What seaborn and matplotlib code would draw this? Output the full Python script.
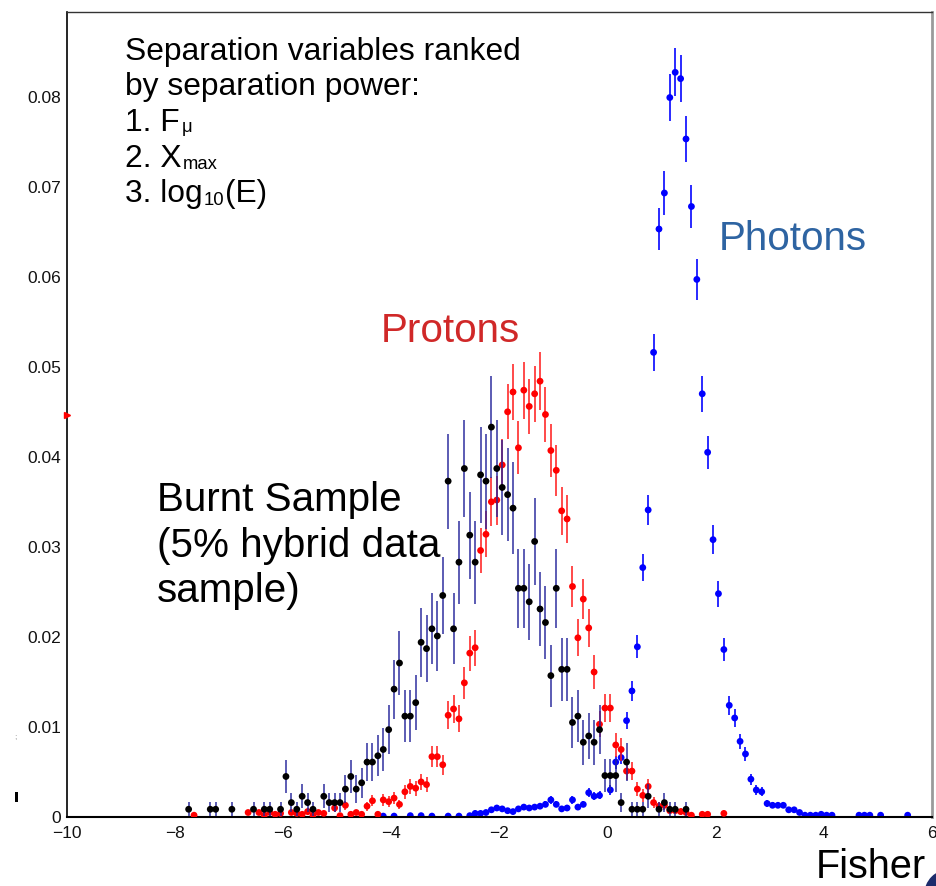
import numpy as np
import pandas as pd
import matplotlib
matplotlib.use("Agg")
import matplotlib.pyplot as plt
import seaborn as sns
from matplotlib.patches import Ellipse, Rectangle
from matplotlib.ticker import MultipleLocator, FuncFormatter

# ---------------- data (bin centres of the Fisher variable, normalised entries) ----------------
burnt_x = [-7.75, -7.35, -7.25, -6.95, -6.55, -6.35, -6.25, -6.05, -5.95, -5.85,
           -5.75, -5.65, -5.55, -5.45, -5.25, -5.15, -5.05, -4.95, -4.85, -4.75,
           -4.65, -4.55, -4.45, -4.35, -4.25, -4.15, -4.05, -3.95, -3.85, -3.75,
           -3.65, -3.55, -3.45, -3.35, -3.25, -3.15, -3.05, -2.95, -2.85, -2.75,
           -2.65, -2.55, -2.45, -2.35, -2.25, -2.15, -2.05, -1.95, -1.85, -1.75,
           -1.65, -1.55, -1.45, -1.35, -1.25, -1.15, -1.05, -0.95, -0.85, -0.75,
           -0.65, -0.55, -0.45, -0.35, -0.25, -0.15, -0.05, 0.05, 0.15, 0.25,
           0.35, 0.45, 0.55, 0.65, 0.75, 0.95, 1.05, 1.15, 1.25, 1.45]
burnt_y = [0.00086, 0.00086, 0.00086, 0.00086, 0.00086, 0.00086, 0.00086, 0.00086, 0.0045, 0.0016,
           0.00086, 0.0023, 0.0016, 0.00086, 0.0023, 0.0016, 0.0016, 0.0016, 0.0031, 0.0045,
           0.0031, 0.0038, 0.0061, 0.0061, 0.0068, 0.0075, 0.0097, 0.0142, 0.0171, 0.0112,
           0.0112, 0.0127, 0.0194, 0.0187, 0.0209, 0.0201, 0.0246, 0.0373, 0.0209, 0.0283,
           0.0387, 0.0313, 0.0283, 0.0380, 0.0373, 0.0433, 0.0387, 0.0366, 0.0358, 0.0343,
           0.0254, 0.0254, 0.0239, 0.0306, 0.0231, 0.0216, 0.0157, 0.0254, 0.0164, 0.0164,
           0.0105, 0.0112, 0.0083, 0.0090, 0.0083, 0.0097, 0.0046, 0.0046, 0.0046, 0.0016,
           0.0061, 0.00086, 0.00086, 0.00086, 0.0023, 0.00086, 0.0016, 0.00086, 0.00086, 0.00086]

proton_x = [-7.65, -6.65, -6.45, -6.35, -6.25, -6.15, -6.05, -5.85, -5.75, -5.65,
            -5.55, -5.45, -5.35, -5.25, -5.05, -4.95, -4.85, -4.75, -4.65, -4.55,
            -4.45, -4.35, -4.25, -4.15, -4.05, -3.95, -3.85, -3.75, -3.65, -3.55,
            -3.45, -3.35, -3.25, -3.15, -3.05, -2.95, -2.85, -2.75, -2.65, -2.55,
            -2.45, -2.35, -2.25, -2.15, -2.05, -1.95, -1.85, -1.75, -1.65, -1.55,
            -1.45, -1.35, -1.25, -1.15, -1.05, -0.95, -0.85, -0.75, -0.65, -0.55,
            -0.45, -0.35, -0.25, -0.15, -0.05, 0.05, 0.15, 0.25, 0.35, 0.45,
            0.55, 0.65, 0.75, 0.85, 0.95, 1.05, 1.15, 1.25, 1.35, 1.45,
            1.55, 1.75, 1.85, 2.15]
proton_y = [0.0002, 0.0005, 0.0005, 0.0002, 0.0005, 0.0003, 0.0004, 0.0005, 0.0004, 0.0003,
            0.0006, 0.0002, 0.0005, 0.0004, 0.0010, 0.00015, 0.0013, 0.0003, 0.0005, 0.0003,
            0.0012, 0.0018, 0.0003, 0.0019, 0.0017, 0.0021, 0.0014, 0.0028, 0.0034, 0.0032,
            0.0039, 0.0036, 0.0067, 0.0067, 0.0058, 0.0113, 0.0120, 0.0109, 0.0149, 0.0182,
            0.0188, 0.0296, 0.0314, 0.0350, 0.0352, 0.0391, 0.0450, 0.0472, 0.0410, 0.0474,
            0.0456, 0.0470, 0.0484, 0.0447, 0.0407, 0.0385, 0.0340, 0.0331, 0.0256, 0.0199,
            0.0242, 0.0210, 0.0161, 0.0103, 0.0121, 0.0121, 0.0080, 0.0075, 0.0051, 0.0051,
            0.0031, 0.0024, 0.0034, 0.0016, 0.0012, 0.0013, 0.0007, 0.0007, 0.0006, 0.0005,
            0.0002, 0.0003, 0.0003, 0.0004]

photon_x = [-4.15, -3.95, -3.65, -3.45, -3.25, -2.95, -2.75, -2.55, -2.45, -2.35,
            -2.25, -2.15, -2.05, -1.95, -1.85, -1.75, -1.65, -1.55, -1.45, -1.35,
            -1.25, -1.15, -1.05, -0.95, -0.85, -0.75, -0.65, -0.55, -0.45, -0.35,
            -0.25, -0.15, 0.05, 0.15, 0.25, 0.35, 0.45, 0.55, 0.65, 0.75,
            0.85, 0.95, 1.05, 1.15, 1.25, 1.35, 1.45, 1.55, 1.65, 1.75,
            1.85, 1.95, 2.05, 2.15, 2.25, 2.35, 2.45, 2.55, 2.65, 2.75,
            2.85, 2.95, 3.05, 3.15, 3.25, 3.35, 3.45, 3.55, 3.65, 3.75,
            3.85, 3.95, 4.05, 4.15, 4.65, 4.75, 4.85, 5.05, 5.55]
photon_y = [0.0001, 0.0001, 0.00015, 0.00015, 0.0001, 0.0001, 0.0001, 0.00015, 0.0004, 0.0004,
            0.0005, 0.0008, 0.0010, 0.0009, 0.0007, 0.0006, 0.0009, 0.0011, 0.0010, 0.0011,
            0.0012, 0.0014, 0.0019, 0.0014, 0.0009, 0.0010, 0.0019, 0.0011, 0.0014, 0.0027,
            0.0023, 0.0024, 0.0030, 0.0061, 0.0066, 0.0107, 0.0140, 0.0189, 0.0277, 0.0341,
            0.0516, 0.0653, 0.0693, 0.0799, 0.0827, 0.0820, 0.0753, 0.0678, 0.0597, 0.0470,
            0.0405, 0.0308, 0.0248, 0.0186, 0.0124, 0.0110, 0.0084, 0.0070, 0.0042, 0.0030,
            0.0028, 0.0015, 0.0013, 0.0013, 0.0013, 0.0008, 0.0008, 0.0005, 0.0002, 0.0002,
            0.0002, 0.0003, 0.0002, 0.0002, 0.0002, 0.0002, 0.0002, 0.0002, 0.0002]

# weight of one entry in each normalised histogram (sets the Poisson error bars)
unit_burnt = 0.00075
unit_proton = 0.00021
unit_photon = 0.000085

# a proton entry drawn on the left frame edge
proton_edge_y = [0.0447]

x_ticks_major = [-10, -8, -6, -4, -2, 0, 2, 4, 6]

assert len(burnt_x) == len(burnt_y)
assert len(proton_x) == len(proton_y)
assert len(photon_x) == len(photon_y)


def make_frame(xs, ys, unit, name):
    d = pd.DataFrame({"x": xs, "y": ys})
    d["err"] = np.sqrt(d["y"] * unit)
    d["series"] = name
    return d


df = pd.concat([
    make_frame(photon_x, photon_y, unit_photon, "Photons"),
    make_frame(proton_x, proton_y, unit_proton, "Protons"),
    make_frame(burnt_x, burnt_y, unit_burnt, "Burnt"),
], ignore_index=True)

# ---------------- style ----------------
sns.set_style("white")
plt.rcParams["font.family"] = ["Liberation Sans", "DejaVu Sans"]
plt.rcParams["axes.unicode_minus"] = True

W, H = 936, 886
fig = plt.figure(figsize=(W / 100, H / 100), dpi=100)
L, R, T, B = 67, 932, 12, 817
ax = fig.add_axes([L / W, 1 - B / H, (R - L) / W, (B - T) / H])

point_colors = {"Photons": "#0000ff", "Protons": "#ff0000", "Burnt": "#000000"}
err_colors = {"Photons": "#0000ff", "Protons": "#ff1a1a", "Burnt": "#22229a"}
err_alpha = {"Photons": 0.9, "Protons": 0.85, "Burnt": 0.8}

for i, name in enumerate(["Photons", "Protons", "Burnt"]):
    sub = df[df["series"] == name]
    ax.vlines(sub["x"], sub["y"] - sub["err"], sub["y"] + sub["err"],
              colors=err_colors[name], linewidth=1.3, alpha=err_alpha[name],
              zorder=2 + i)
    sns.scatterplot(data=sub, x="x", y="y", color=point_colors[name], s=24,
                    linewidth=0, edgecolor="none", legend=False, ax=ax,
                    zorder=2.5 + i)

ax.plot([-10], proton_edge_y, marker=">", color="#ff0000", markersize=4,
        linestyle="none", clip_on=False, zorder=6)

ax.set_xlim(-10, 6)
ax.set_ylim(0, 0.0894)
ax.set_xlabel("")
ax.set_ylabel("")

ax.xaxis.set_major_locator(plt.FixedLocator(x_ticks_major))
ax.xaxis.set_minor_locator(MultipleLocator(0.5))
ax.yaxis.set_major_locator(MultipleLocator(0.01))
ax.yaxis.set_minor_locator(MultipleLocator(0.002))
ax.yaxis.set_major_formatter(FuncFormatter(lambda v, p: "0" if abs(v) < 1e-9 else f"{v:.2f}"))

ax.tick_params(axis="both", which="major", direction="in", length=18, width=1.0,
               color="#555555", labelsize=12.5, labelcolor="#111111")
ax.tick_params(axis="both", which="minor", direction="in", length=9, width=1.0,
               color="#555555")
ax.tick_params(axis="x", which="major", pad=6.5)
ax.tick_params(axis="y", which="major", pad=4)
ax.tick_params(top=False, right=False, which="both")

for side, col, lw in [("left", "#000000", 1.2), ("bottom", "#000000", 1.5),
                      ("top", "#333333", 1.0), ("right", "#9a9a9a", 2.0)]:
    ax.spines[side].set_visible(True)
    ax.spines[side].set_color(col)
    ax.spines[side].set_linewidth(lw)

ax.grid(False)

renderer = fig.canvas.get_renderer()


def ftext(px, py, s, **kw):
    return fig.text(px / W, 1 - py / H, s, va="baseline", ha="left", **kw)


def right_px(t):
    return t.get_window_extent(renderer=renderer).x1


# Annotation block (top left), subscripts set as smaller runs of text
fs1 = 22.9
fsub = fs1 * 0.58
ftext(125, 60, "Separation variables ranked", fontsize=fs1, color="#000000")
ftext(125, 95, "by separation power:", fontsize=fs1, color="#000000")
t = ftext(125, 131, "1. F", fontsize=fs1, color="#000000")
ftext(right_px(t) + 2, 132, "μ", fontsize=fsub, color="#000000")
t = ftext(125, 167, "2. X", fontsize=fs1, color="#000000")
ftext(right_px(t) + 1, 169, "max", fontsize=fsub, color="#000000")
t = ftext(125, 202, "3. log", fontsize=fs1, color="#000000")
t2 = ftext(right_px(t) + 1, 205, "10", fontsize=fsub, color="#000000")
ftext(right_px(t2) + 1, 202, "(E)", fontsize=fs1, color="#000000")

fs2 = 29.1
ftext(719, 250, "Photons", fontsize=fs2, color="#2e64a2")
ftext(381, 342, "Protons", fontsize=fs2, color="#d02828")
ftext(157, 511, "Burnt Sample", fontsize=fs2, color="#000000")
ftext(157, 557, "(5% hybrid data", fontsize=fs2, color="#000000")
ftext(157, 602, "sample)", fontsize=fs2, color="#000000")

ftext(816, 878, "Fisher", fontsize=28.5, color="#000000")

# corner decoration and small edge marks of the slide
fig.patches.append(Ellipse((950 / W, 1 - 895 / H), 2 * 26 / W, 2 * 26 / H,
                           transform=fig.transFigure, facecolor="#1c2c6c",
                           edgecolor="none", zorder=10))
fig.patches.append(Rectangle((15 / W, 1 - 802 / H), 3 / W, 10 / H,
                             transform=fig.transFigure, facecolor="#000000",
                             edgecolor="none"))
fig.text(14 / W, 1 - 738 / H, ";", fontsize=6, color="#888888")

fig.savefig("out.png", dpi=100)
